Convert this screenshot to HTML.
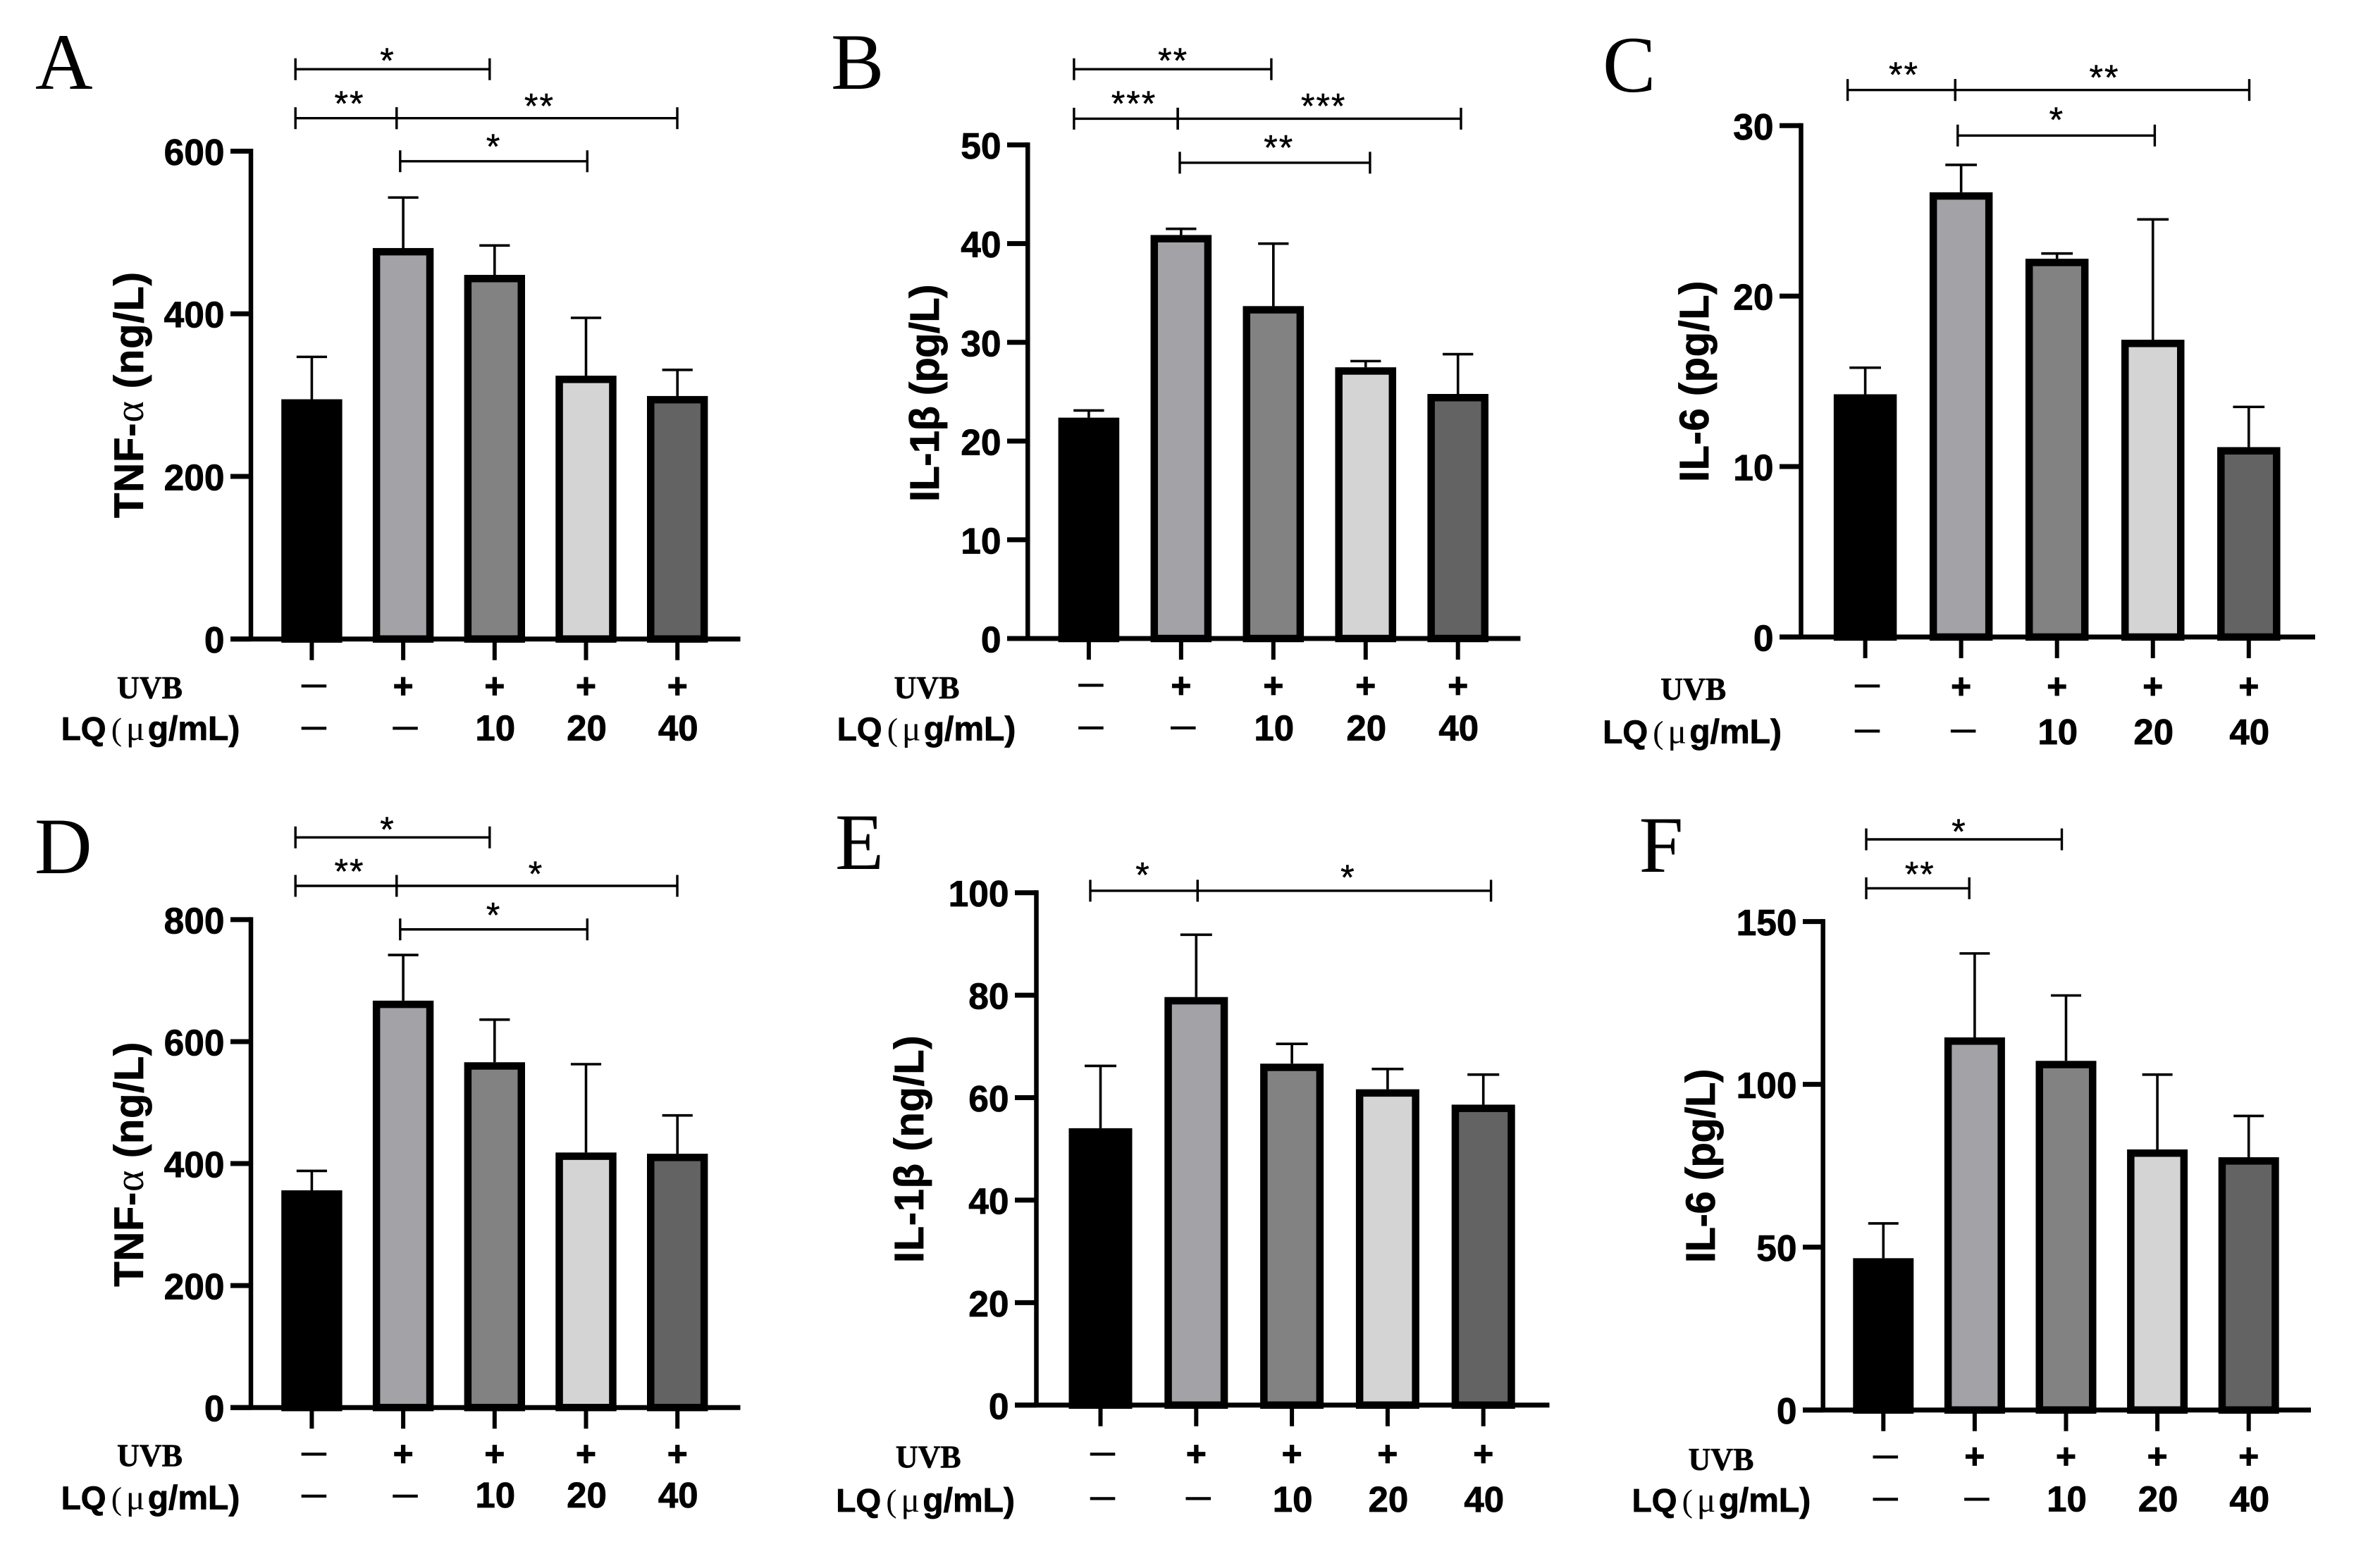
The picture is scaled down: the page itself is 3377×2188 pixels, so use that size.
<!DOCTYPE html>
<html lang="en">
<head>
<meta charset="utf-8">
<title>Cytokine levels bar charts</title>
<style>
html,body{margin:0;padding:0;background:#fff;}
body{width:3377px;height:2188px;overflow:hidden;}
svg{display:block;}
text{white-space:pre;}
.sans{font-family:"Liberation Sans",sans-serif;font-weight:700;fill:#000;stroke:#000;stroke-width:0.8px;}
.serif{font-family:"Liberation Serif",serif;fill:#000;stroke:none;}
</style>
</head>
<body>
<svg id="figure" xmlns="http://www.w3.org/2000/svg" width="3377" height="2188" viewBox="0 0 3377 2188"></svg>
<script>
// ---- data ----
const categories = ['control', 'uvb', 'lq-10', 'lq-20', 'lq-40'];
const uvbRow = ['-', '+', '+', '+', '+'];
const lqRow = ['-', '-', '10', '20', '40'];
const barFills = ['#000000', '#a3a3a7', '#828282', '#d4d4d4', '#636363'];

const valuesA = [294, 480, 447, 323, 298];
const errorsA = [347, 543, 484, 395, 331];
const ticksA = [0, 200, 400, 600];

const valuesB = [22.3, 40.8, 33.6, 27.4, 24.7];
const errorsB = [23.1, 41.5, 40.0, 28.1, 28.8];
const ticksB = [0, 10, 20, 30, 40, 50];

const valuesC = [14.2, 26.05, 22.15, 17.4, 11.1];
const errorsC = [15.8, 27.7, 22.5, 24.5, 13.5];
const ticksC = [0, 10, 20, 30];

const valuesD = [355, 666, 565, 417, 415];
const errorsD = [388, 742, 636, 563, 479];
const ticksD = [0, 200, 400, 600, 800];

const valuesE = [53.9, 79.5, 66.5, 61.5, 58.5];
const errorsE = [66.2, 91.8, 70.5, 65.6, 64.5];
const ticksE = [0, 20, 40, 60, 80, 100];

const valuesF = [46.4, 114.2, 107, 79.8, 77.4];
const errorsF = [57.3, 140.2, 127.3, 103, 90.3];
const ticksF = [0, 50, 100, 150];

// ---- drawing helpers ----
const NS = 'http://www.w3.org/2000/svg';
const root = document.getElementById('figure');

function make(parent, tag, props) {
  const el = document.createElementNS(NS, tag);
  for (const k in props) el.setAttribute(k, props[k]);
  parent.appendChild(el);
  return el;
}

function drawLine(parent, x1, y1, x2, y2, w, name) {
  const el = make(parent, 'line', {x1: x1, y1: y1, x2: x2, y2: y2, stroke: '#000', 'stroke-width': w});
  
  
  return el;
}

function drawText(parent, cls, x, y, size, anchor, str, name) {
  const el = make(parent, 'text', {class: cls, x: x, y: y, 'font-size': size, 'text-anchor': anchor});
  el.textContent = str;
  
  
  return el;
}

function drawBracket(parent, x1, x2, y, label, lx, ly) {
  const g = make(parent, 'g', {});
  
  
  drawLine(g, x1, y, x2, y, 3.4, 'bracket-line');
  drawLine(g, x1, y - 15.5, x1, y + 15.5, 3.4, 'bracket-cap');
  drawLine(g, x2, y - 15.5, x2, y + 15.5, 3.4, 'bracket-cap');
  const t = drawText(g, 'sans', lx, ly + 25, 50, 'middle', label, 'significance-label');
  t.setAttribute('style', 'font-weight:400;letter-spacing:2px;stroke-width:0.5px');
}

function drawPanel(p) {
  const g = make(root, 'g', {});
  
  

  const xAt = i => p.firstX + p.step * i;
  const yAt = v => p.base - (v / p.max) * (p.base - p.top);

  drawText(g, 'serif', p.letterX, p.letterY, 113, 'start', p.letter, 'panel-letter');

  // bars and error bars
  p.values.forEach((v, i) => {
    const cx = xAt(i);
    const top = yAt(v) - 1;
    const errTop = yAt(p.errors[i]);
    drawLine(g, cx, top, cx, errTop, 3.6, 'error-bar-' + categories[i]);
    drawLine(g, cx - p.barW / 4, errTop, cx + p.barW / 4, errTop, 3.6, 'error-cap-' + categories[i]);
    const bar = make(g, 'rect', {
      x: cx - p.barW / 2 + 5.25, y: top + 5.25, width: p.barW - 10.5, height: Math.max(0, p.base - top - 5.25),
      fill: barFills[i], stroke: '#000', 'stroke-width': 10.5
    });
    
    
  });

  // axes
  drawLine(g, p.axisX, p.top - 3.5, p.axisX, p.base + 3, 6.5, 'y-axis');
  drawLine(g, p.left, p.base, p.right, p.base, 7, 'x-axis');
  p.ticks.forEach(t => {
    const y = yAt(t);
    drawLine(g, p.left, y, p.axisX, y, 7, 'y-tick');
    drawText(g, 'sans', p.left - 8.5, y + 19.5, 51.5, 'end', String(t), 'y-tick-label');
  });

  // axis title
  const title = make(g, 'text', {
    class: 'sans', transform: 'translate(' + p.titleX + ',' + p.titleBottom + ') rotate(-90)',
    'font-size': 58, textLength: p.titleLen, lengthAdjust: 'spacing'
  });
  
  
  p.title.forEach(part => {
    const s = make(title, 'tspan', part.serif ? {class: 'serif', style: 'font-weight:400'} : {});
    s.textContent = part.text;
  });

  // category rows
  categories.forEach((c, i) => {
    const cx = xAt(i);
    drawLine(g, cx, p.base + 3, cx, p.base + 30, 6, 'x-tick');
    if (uvbRow[i] === '+') {
      drawText(g, 'sans', cx, p.base + p.plusY + 17, 50, 'middle', '+', 'uvb-plus');
    } else {
      const d = drawText(g, 'sans', cx + 3, p.base + p.dashY + 17.6, 64, 'middle', '\u2013', 'uvb-minus');
      d.setAttribute('style', 'font-weight:400;stroke:none');
    }
    if (lqRow[i] === '-') {
      const d = drawText(g, 'sans', cx + 3, p.base + p.lqDashY + 17.6, 64, 'middle', '\u2013', 'lq-minus');
      d.setAttribute('style', 'font-weight:400;stroke:none');
    } else {
      drawText(g, 'sans', cx + 1, p.base + p.numY, 51, 'middle', lqRow[i], 'lq-dose');
    }
  });

  // row headings
  const uvb = drawText(g, 'serif', p.uvbX, p.uvbY, 46, 'start', 'UVB', 'uvb-row-label');
  uvb.setAttribute('style', 'font-weight:700;stroke:#000;stroke-width:0.6px');
  uvb.setAttribute('textLength', 93);
  uvb.setAttribute('lengthAdjust', 'spacingAndGlyphs');

  const lq = make(g, 'text', {class: 'sans', x: p.lqX, y: p.lqY, 'font-size': 46});
  
  
  const a = make(lq, 'tspan', {x: p.lqX});
  a.textContent = 'LQ';
  const b = make(lq, 'tspan', {x: p.lqX + 71, class: 'serif', style: 'font-weight:400'});
  b.textContent = '(';
  const c = make(lq, 'tspan', {x: p.lqX + 92, class: 'serif', style: 'font-weight:400', 'font-size': 50});
  c.textContent = '\u03bc';
  const d = make(lq, 'tspan', {x: p.lqX + 123, 'font-size': 48});
  d.textContent = 'g/mL)';

  p.brackets(g);
}

const bold = t => ({text: t, serif: false});
const alpha = {text: '\u03b1', serif: true};

drawPanel({letter: 'A', letterX: 50, letterY: 126, values: valuesA, errors: errorsA, ticks: ticksA, max: 600,
  axisX: 356, top: 214.5, base: 906.7, left: 327, right: 1050.5, firstX: 442.4, step: 129.7, barW: 86.4,
  title: [bold('TNF-'), alpha, bold(' (ng/L)')], titleX: 203, titleBottom: 735, titleLen: 349,
  plusY: 66.6, dashY: 65, lqDashY: 125, numY: 144, uvbX: 166, uvbY: 991, lqX: 86.7, lqY: 1050,
  brackets: g => {
    drawBracket(g, 419.2, 694.8, 98.2, '*', 550, 78);
    drawBracket(g, 419.2, 562.8, 167.7, '**', 496, 139);
    drawBracket(g, 562.8, 961, 167.7, '**', 765.5, 142.5);
    drawBracket(g, 567.8, 833.3, 228.8, '*', 700.6, 200);
  }});

drawPanel({letter: 'B', letterX: 1179, letterY: 126, values: valuesB, errors: errorsB, ticks: ticksB, max: 50,
  axisX: 1458.3, top: 205.6, base: 906, left: 1429, right: 2157.4, firstX: 1544.9, step: 130.95, barW: 86.6,
  title: [bold('IL-1\u03b2 (pg/L)')], titleX: 1332, titleBottom: 712, titleLen: 308.5,
  plusY: 67, dashY: 65, lqDashY: 125.6, numY: 144.5, uvbX: 1268.5, uvbY: 991, lqX: 1187.7, lqY: 1050.5,
  brackets: g => {
    drawBracket(g, 1523.9, 1803.9, 98.2, '**', 1664.6, 78);
    drawBracket(g, 1523.9, 1671.1, 168.4, '***', 1609, 139);
    drawBracket(g, 1671.1, 2073, 168.4, '***', 1878.2, 142.5);
    drawBracket(g, 1674, 1943.9, 230.9, '**', 1814.7, 201.4);
  }});

drawPanel({letter: 'C', letterX: 2274, letterY: 130, values: valuesC, errors: errorsC, ticks: ticksC, max: 30,
  axisX: 2555.5, top: 178.3, base: 903.9, left: 2525, right: 3285, firstX: 2646.6, step: 136.05, barW: 89.5,
  title: [bold('IL-6 (pg/L)')], titleX: 2424, titleBottom: 684, titleLen: 285.5,
  plusY: 70, dashY: 68, lqDashY: 132, numY: 152, uvbX: 2356.3, uvbY: 993, lqX: 2274.3, lqY: 1054.7,
  brackets: g => {
    drawBracket(g, 2621.6, 2774.3, 127.7, '**', 2701.5, 98.2);
    drawBracket(g, 2774.3, 3191.5, 127.7, '**', 2986, 101.8);
    drawBracket(g, 2777.8, 3057.4, 192.3, '*', 2918.3, 162);
  }});

drawPanel({letter: 'D', letterX: 49, letterY: 1239, values: valuesD, errors: errorsD, ticks: ticksD, max: 800,
  axisX: 356, top: 1304.9, base: 1997.2, left: 327, right: 1050.5, firstX: 442.4, step: 129.7, barW: 86.4,
  title: [bold('TNF-'), alpha, bold(' (ng/L)')], titleX: 203, titleBottom: 1825.7, titleLen: 347,
  plusY: 66, dashY: 64.6, lqDashY: 124, numY: 142, uvbX: 166, uvbY: 2080.5, lqX: 86.7, lqY: 2141.7,
  brackets: g => {
    drawBracket(g, 419.2, 694.8, 1188.2, '*', 550, 1168.75);
    drawBracket(g, 419.2, 562.8, 1257, '**', 496, 1228.5);
    drawBracket(g, 562.8, 961, 1257, '*', 760.5, 1232);
    drawBracket(g, 567.8, 833.3, 1318.75, '*', 700.6, 1290.3);
  }});

drawPanel({letter: 'E', letterX: 1185, letterY: 1233, values: valuesE, errors: errorsE, ticks: ticksE, max: 100,
  axisX: 1470.5, top: 1266.7, base: 1993.75, left: 1440, right: 2198.5, firstX: 1561.5, step: 135.8, barW: 90,
  title: [bold('IL-1\u03b2 (ng/L)')], titleX: 1310, titleBottom: 1792, titleLen: 322.6,
  plusY: 69, dashY: 68, lqDashY: 131, numY: 151, uvbX: 1270.7, uvbY: 2082.6, lqX: 1186.3, lqY: 2145,
  brackets: g => {
    drawBracket(g, 1547, 1699.3, 1263.9, '*', 1622, 1233.3);
    drawBracket(g, 1699.3, 2115.6, 1263.9, '*', 1912.8, 1236.8);
  }});

drawPanel({letter: 'F', letterX: 2325.6, letterY: 1237, values: valuesF, errors: errorsF, ticks: ticksF, max: 150,
  axisX: 2586.7, top: 1307.6, base: 2000.7, left: 2558, right: 3279, firstX: 2672.3, step: 129.6, barW: 86,
  title: [bold('IL-6 (pg/L)')], titleX: 2433, titleBottom: 1792, titleLen: 275.3,
  plusY: 66, dashY: 65, lqDashY: 125, numY: 144, uvbX: 2395.5, uvbY: 2086, lqX: 2315.6, lqY: 2145,
  brackets: g => {
    drawBracket(g, 2648, 2925.5, 1191, '*', 2780, 1172.2);
    drawBracket(g, 2648, 2794.2, 1260.4, '**', 2724.3, 1232.6);
  }});
</script>
</body>
</html>
